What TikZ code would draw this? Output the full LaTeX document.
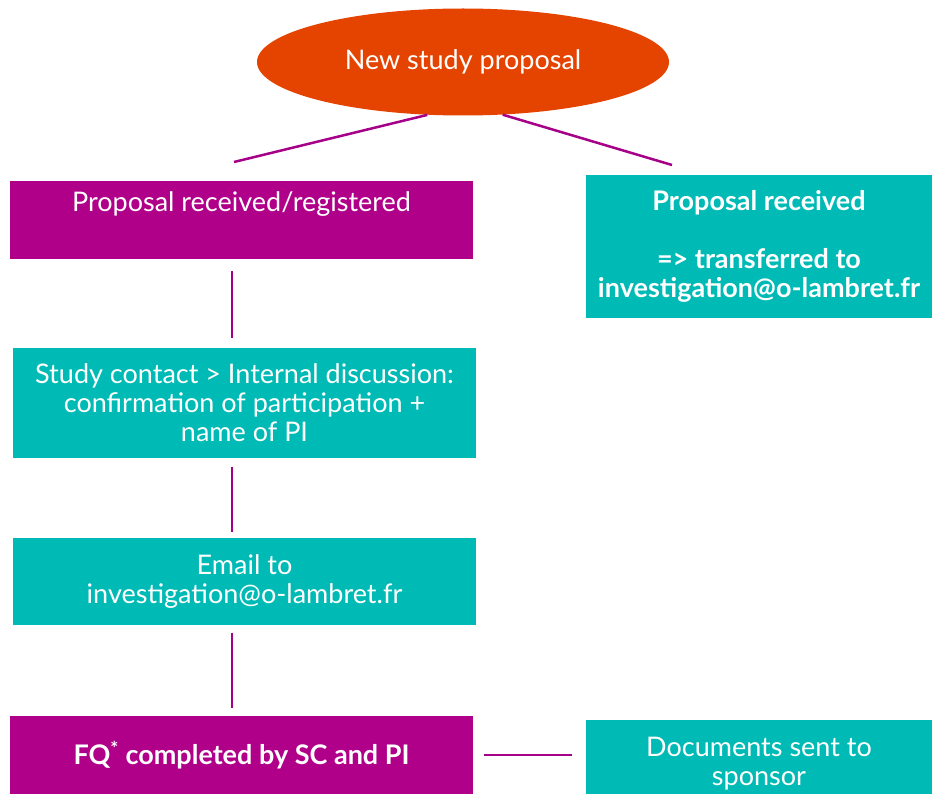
\documentclass[tikz,border=0pt]{standalone}
\usepackage{fontspec}
\setmainfont{Lato}
\usepackage{xcolor}
\usepackage{tikz}
\usetikzlibrary{shapes.geometric,calc}
\definecolor{startorange}{HTML}{E54300}
\definecolor{stepmagenta}{HTML}{B0008A}
\definecolor{stepteal}{HTML}{00BAB5}
\definecolor{linkmagenta}{HTML}{A50087}
\tikzset{start node/.style={ellipse,fill=startorange,text=white,minimum width=412pt,minimum height=107pt,inner sep=0pt},box node/.style={fill=#1,text=white,inner sep=0pt,align=center},link/.style={draw=linkmagenta,line width=2.5pt}}
\begin{document}
\begin{tikzpicture}[x=1pt,y=-1pt,font=\fontsize{27}{29}\selectfont]
				\useasboundingbox (0,0) rectangle (932,794);
				\node[start node] (new) at (463,62) {New study proposal};
				\node[box node=stepmagenta,minimum width=463pt,minimum height=78pt] (reg) at (241.5,220) {Proposal received/registered\\ \strut};
				\node[box node=stepteal,minimum width=346pt,minimum height=143pt,font=\fontsize{27}{29}\selectfont\bfseries] (fwd) at (759,246.5) {Proposal received\\ \strut\\ => transferred to\\ investigation@o-lambret.fr};
				\node[box node=stepteal,minimum width=463pt,minimum height=110pt] (contact) at (244.5,403) {Study contact > Internal discussion:\\ confirmation of participation +\\ name of PI};
				\node[box node=stepteal,minimum width=463pt,minimum height=87pt] (email) at (244.5,581.5) {Email to\\ investigation@o-lambret.fr};
				\node[box node=stepmagenta,minimum width=463pt,minimum height=78pt,font=\fontsize{27}{29}\selectfont\bfseries] (fq) at (241.5,755) {FQ\textsuperscript{*} completed by SC and PI};
				\node[box node=stepteal,minimum width=346pt,minimum height=88pt] (sent) at (759,764) {Documents sent to\\ sponsor};
				\coordinate (L) at (234,162);
				\coordinate (R) at (672,165);
				\draw[link] (new.236) -- (L);
				\draw[link] (new.307) -- (R);
				\draw[link,shorten <=12pt,shorten >=10pt] ([xshift=-9.5pt]reg.south) -- ([xshift=-9.5pt]reg.south |- contact.north);
				\draw[link,shorten <=9pt,shorten >=6pt] ([xshift=-12.5pt]contact.south) -- ([xshift=-12.5pt]contact.south |- email.north);
				\draw[link,shorten <=8pt,shorten >=8pt] ([xshift=-12.5pt]email.south) -- ([xshift=-12.5pt]email.south |- fq.north);
				\draw[link,shorten <=11pt,shorten >=14pt] (fq.east) -- (fq.east -| sent.west);
			\end{tikzpicture}
\end{document}
